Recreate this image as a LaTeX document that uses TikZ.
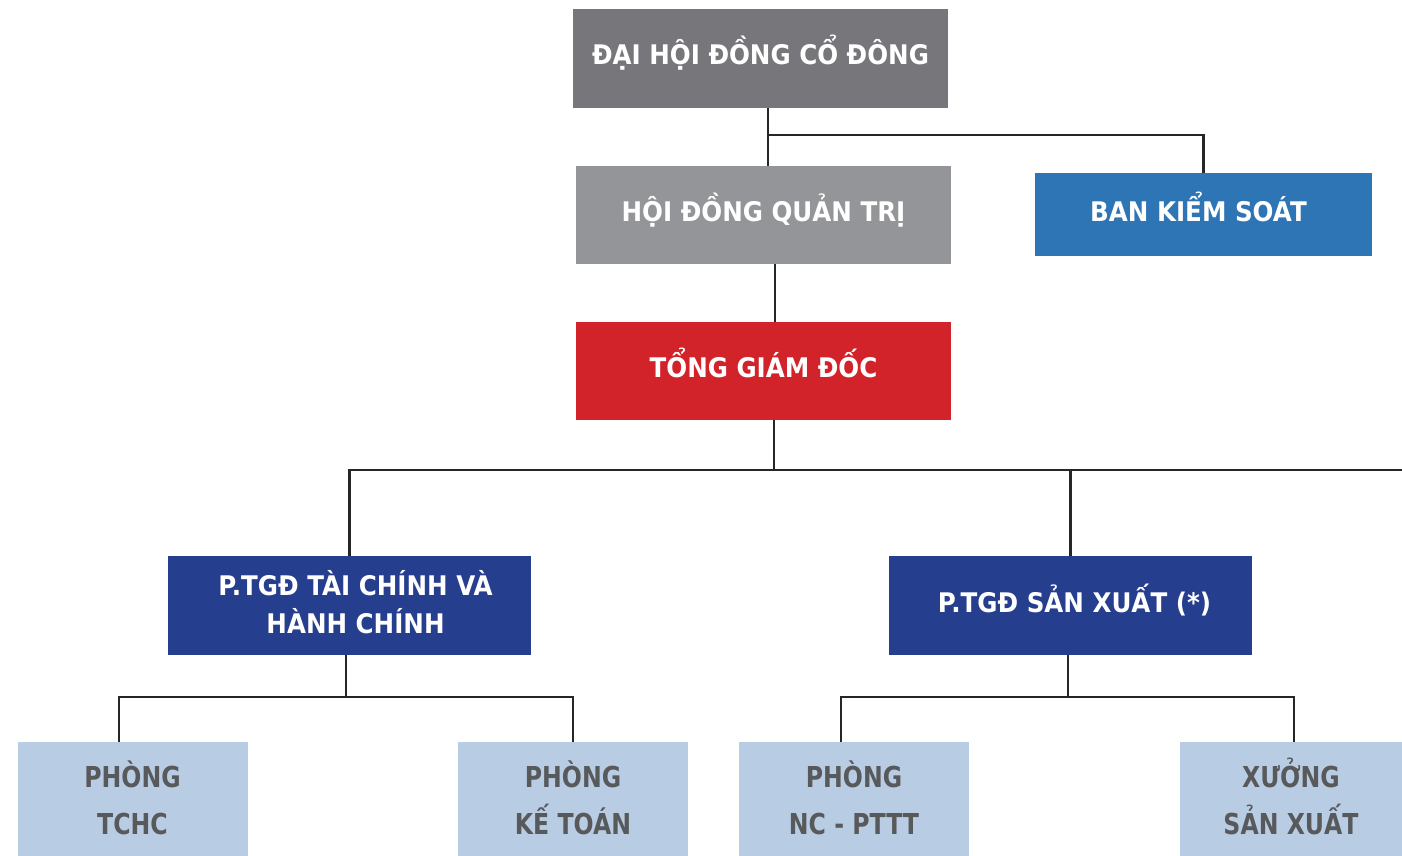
\documentclass[tikz,border=0pt]{standalone}
\usepackage{fontspec}
\setmainfont{DejaVu Sans}[FakeStretch=0.91]
\newfontfamily\narrowfont{DejaVu Sans}[FakeStretch=0.82]
\definecolor{cDH}{HTML}{77777B}
\definecolor{cHD}{HTML}{939598}
\definecolor{cBK}{HTML}{2E75B6}
\definecolor{cTG}{HTML}{D2232A}
\definecolor{cPT}{HTML}{263E8E}
\definecolor{cPB}{HTML}{B8CCE4}
\definecolor{cPBt}{HTML}{58595B}
\definecolor{cLn}{HTML}{262626}
\newcommand\topstrutA{\rule{0pt}{30pt}}
\newcommand\botstrutA{\rule[-7pt]{0pt}{7pt}}
\newcommand\topstrutB{\rule{0pt}{25pt}}
\newcommand\botstrutB{\rule[-8pt]{0pt}{8pt}}
\tikzset{
  box/.style={rectangle, inner sep=0pt, outer sep=0pt, text=white, align=center,
    font=\fontsize{27}{38}\selectfont\bfseries},
  onel/.style={text height=20pt, text depth=7pt},
  dept/.style={rectangle, inner sep=0pt, outer sep=0pt, fill=cPB, text=cPBt, align=center,
    minimum width=230pt, minimum height=114pt,
    font=\fontsize{28.8}{47}\selectfont\narrowfont\bfseries},
  conn/.style={draw=cLn, line width=2.8pt}
}
\begin{document}
\begin{tikzpicture}[x=1pt,y=-1pt]
\path[use as bounding box, fill=white] (0,0) rectangle (1402,856);
% boxes
\node[box, onel, fill=cDH, minimum width=375pt, minimum height=99pt] (dh) at (760.5,58.5) {ĐẠI HỘI ĐỒNG CỔ ĐÔNG};
\node[box, onel, fill=cHD, minimum width=375pt, minimum height=98pt] (hd) at (763.5,215) {HỘI ĐỒNG QUẢN TRỊ};
\node[box, onel, fill=cBK, minimum width=337pt, minimum height=83pt] (bk) at (1203.5,214.5) {BAN KIỂM SOÁT\hspace{10pt}};
\node[box, onel, fill=cTG, minimum width=375pt, minimum height=98pt] (tg) at (763.5,371) {TỔNG GIÁM ĐỐC};
\node[box, fill=cPT, minimum width=363pt, minimum height=99pt] (p1) at (349.5,605.5) {\topstrutB\hspace{12pt}P.TGĐ TÀI CHÍNH VÀ\\\hspace{12pt}HÀNH CHÍNH\botstrutB};
\node[box, onel, fill=cPT, minimum width=363pt, minimum height=99pt] (p2) at (1070.5,605.5) {\hspace{8pt}P.TGĐ SẢN XUẤT (*)};
\node[dept] (b1) at (132.5,799) {\topstrutA PHÒNG\\TCHC\botstrutA};
\node[dept] (b2) at (573,799) {\topstrutA PHÒNG\\KẾ TOÁN\botstrutA};
\node[dept] (b3) at (854,799) {\topstrutA PHÒNG\\NC - PTTT\botstrutA};
\node[dept, minimum width=222pt] (b4) at (1291,799) {\topstrutA XƯỞNG\\SẢN XUẤT\botstrutA};
% junctions
\coordinate (j1) at (768,135);
\coordinate (j2) at (774,470);
\coordinate (jR) at (1402,470);
\coordinate (j3) at (346,697);
\coordinate (j4) at (1068,697);
% connectors
\draw[conn] ([xshift=7.5pt]dh.south) -- ([xshift=4.5pt]hd.north);
\draw[conn] (j1) -| (bk.north);
\draw[conn] ([xshift=11.5pt]hd.south) -- ([xshift=11.5pt]tg.north);
\draw[conn] ([xshift=10.5pt]tg.south) -- (j2);
\draw[conn] (p1.north) |- (jR);
\draw[conn] (j2 -| p2.north) -- (p2.north);
\draw[conn] (p1.south -| j3) -- (j3);
\draw[conn] ([xshift=-13.5pt]b1.north) |- (j3) -| (b2.north);
\draw[conn] (p2.south -| j4) -- (j4);
\draw[conn] ([xshift=-13pt]b3.north) |- (j4) -| ([xshift=3pt]b4.north);
\end{tikzpicture}
\end{document}
